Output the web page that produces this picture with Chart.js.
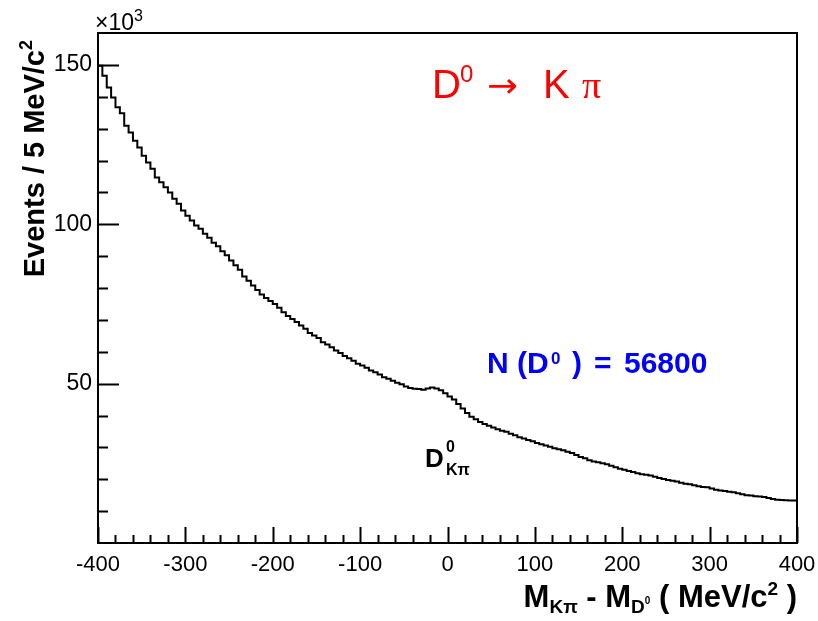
<!DOCTYPE html>
<html>
<head>
<meta charset="utf-8">
<script src="https://cdn.jsdelivr.net/npm/chart.js@4.4.0/dist/chart.umd.min.js"></script>
<style>
  body { margin: 0; background: #fff; }
  canvas { display: block; }
</style>
</head>
<body>
<canvas id="massChart" width="818" height="621"></canvas>
<script>
// histogram binning (MeV)
const xMin = -400
const xMax = 400
const binWidth = 5

// events per 5 MeV bin, in units of 10^3
const counts = [
    153.0, 149.7, 146.6, 142.9, 139.8, 136.7, 134.8, 130.9, 128.8, 126.2,
    124.1, 121.5, 119.4, 117.4, 114.7, 113.2, 111.6, 110.0, 108.0, 106.4,
    104.3, 102.7, 101.2, 99.6, 98.6, 97.0, 95.8, 94.2, 93.1, 91.5,
    90.3, 88.6, 87.1, 85.7, 83.6, 82.3, 80.8, 79.4, 78.0, 76.9,
    75.9, 75.0, 73.8, 72.4, 71.2, 70.3, 69.3, 68.2, 67.2, 65.9,
    65.1, 64.3, 63.0, 62.3, 61.4, 60.4, 59.6, 58.7, 58.0, 57.2,
    56.2, 55.7, 55.0, 54.1, 53.6, 52.9, 52.0, 51.5, 50.9, 50.3,
    49.8, 49.1, 48.6, 48.4, 48.3, 48.1, 48.5, 48.8, 48.5, 47.9,
    47.0, 46.0, 45.0, 43.6, 42.2, 40.8, 39.6, 38.8, 38.0, 37.3,
    36.8, 36.2, 35.7, 35.2, 34.9, 34.3, 33.8, 33.2, 32.8, 32.3,
    31.9, 31.4, 31.0, 30.6, 30.2, 29.7, 29.4, 29.1, 28.6, 28.2,
    27.6, 27.0, 26.6, 26.0, 25.6, 25.3, 25.0, 24.7, 24.2, 23.8,
    23.3, 23.0, 22.6, 22.3, 21.9, 21.6, 21.4, 21.2, 20.8, 20.4,
    20.1, 19.8, 19.5, 19.3, 18.9, 18.6, 18.4, 18.1, 17.8, 17.6,
    17.5, 17.1, 16.7, 16.5, 16.3, 16.1, 15.9, 15.6, 15.3, 15.0,
    14.9, 14.7, 14.6, 14.4, 14.1, 13.8, 13.6, 13.5, 13.4, 13.3
]

const xTicks = [-400, -300, -200, -100, 0, 100, 200, 300, 400]
const yTicks = [50, 100, 150]

// step points: left edge of every bin + closing point at the right edge
const histPoints = counts.map((c, i) => ({ x: xMin + i * binWidth, y: c }))
histPoints.push({ x: xMax, y: counts[counts.length - 1] })

// draws a row of text pieces [text, font, dy] starting at x
function drawPieces(ctx, pieces, x, y) {
    pieces.forEach(p => {
        ctx.font = p[1]
        ctx.fillText(p[0], x, y + (p[2] || 0))
        x += ctx.measureText(p[0]).width
    })
}
function piecesWidth(ctx, pieces) {
    let w = 0
    pieces.forEach(p => { ctx.font = p[1]; w += ctx.measureText(p[0]).width })
    return w
}

const rootFrame = {
    id: 'rootFrame',
    afterDraw(chart) {
        const ctx = chart.ctx
        const a = chart.chartArea
        const xs = chart.scales.x
        const ys = chart.scales.y
        ctx.save()
        ctx.strokeStyle = '#000'
        ctx.lineWidth = 2
        ctx.strokeRect(a.left, a.top, a.right - a.left, a.bottom - a.top)

        // inside ticks
        ctx.beginPath()
        for (let v = xMin; v <= xMax; v += 20) {
            const px = Math.round(xs.getPixelForValue(v)) + 0.5
            const len = v % 100 === 0 ? 16 : 8
            ctx.moveTo(px, a.bottom)
            ctx.lineTo(px, a.bottom - len)
        }
        for (let v = 10; v < 160; v += 10) {
            const py = Math.round(ys.getPixelForValue(v)) + 0.5
            const len = v % 50 === 0 ? 21 : 10
            ctx.moveTo(a.left, py)
            ctx.lineTo(a.left + len, py)
        }
        ctx.stroke()

        ctx.fillStyle = '#000'
        ctx.textBaseline = 'alphabetic'
        ctx.textAlign = 'left'

        // x10^3
        drawPieces(ctx, [
            ['\u00d710', '23px "Liberation Sans"', 0],
            ['3', '16px "Liberation Sans"', -9]
        ], 95, 30)

        // y title, rotated, end aligned to the top
        const yTitle = [
            ['Events / 5 MeV/c', 'bold 29px "Liberation Sans"', 0],
            ['2', 'bold 18px "Liberation Sans"', -12]
        ]
        const yw = piecesWidth(ctx, yTitle)
        ctx.save()
        ctx.translate(44, 40 + yw)
        ctx.rotate(-Math.PI / 2)
        drawPieces(ctx, yTitle, 0, 0)
        ctx.restore()

        // x title, right aligned
        const bf = '"Liberation Sans"'
        const xTitle = [
            ['M', 'bold 31px ' + bf, 0],
            ['K\u03c0', 'bold 19px ' + bf, 6],
            [' - M', 'bold 31px ' + bf, 0],
            ['D', 'bold 19px ' + bf, 6],
            ['0', 'bold 10px ' + bf, -3],
            [' ( MeV/c', 'bold 31px ' + bf, 0],
            ['2', 'bold 19px ' + bf, -12],
            [' )', 'bold 31px ' + bf, 0]
        ]
        drawPieces(ctx, xTitle, 797 - piecesWidth(ctx, xTitle), 607)

        // decay label
        ctx.fillStyle = '#ff0000'
        ctx.font = '40px "Liberation Sans Narrow", "Liberation Sans"'
        ctx.fillText('D', 432, 98)
        ctx.font = '24px "Liberation Sans Narrow", "Liberation Sans"'
        ctx.fillText('0', 460, 82)
        ctx.font = '34px "DejaVu Sans"'
        ctx.save()
        const aw = ctx.measureText('\u2192').width
        ctx.translate(487, 97)
        ctx.scale(31 / aw, 1)
        ctx.fillText('\u2192', 0, 0)
        ctx.restore()
        ctx.font = '40px "Liberation Sans Narrow", "Liberation Sans"'
        ctx.fillText('K', 543, 98)
        ctx.font = '38px "Liberation Serif"'
        ctx.fillText('\u03c0', 582, 98)

        // signal yield
        ctx.fillStyle = '#0000ff'
        ctx.font = 'bold 30px "Liberation Sans"'
        ctx.fillText('N (D', 487, 373)
        ctx.font = 'bold 17px "Liberation Sans"'
        ctx.fillText('0', 551, 364)
        ctx.font = 'bold 30px "Liberation Sans"'
        ctx.fillText(')', 572, 373)
        ctx.fillText('=', 594, 373)
        ctx.fillText('56800', 624, 373)

        // peak label
        ctx.fillStyle = '#000'
        ctx.font = 'bold 26px "Liberation Sans"'
        ctx.fillText('D', 425, 467)
        ctx.font = 'bold 16px "Liberation Sans"'
        ctx.fillText('0', 446, 452)
        ctx.fillText('K\u03c0', 446, 475)
        ctx.restore()
    }
}

const massCtx = document.getElementById('massChart').getContext('2d')
new Chart(massCtx, {
    type: 'line',
    data: {
        datasets: [{
            data: histPoints,
            stepped: 'after',
            borderColor: '#000',
            borderWidth: 2,
            pointRadius: 0,
            fill: false
        }]
    },
    options: {
        responsive: false,
        animation: false,
        layout: { autoPadding: false, padding: { left: 0, top: 33, right: 21, bottom: 0 } },
        plugins: {
            legend: { display: false },
            tooltip: { enabled: false }
        },
        scales: {
            x: {
                type: 'linear',
                min: xMin,
                max: xMax,
                grid: { display: false, drawTicks: false },
                border: { display: false },
                afterBuildTicks: s => { s.ticks = xTicks.map(v => ({ value: v })) },
                afterFit: s => { s.height = 78; s.paddingLeft = 0; s.paddingRight = 0 },
                ticks: {
                    padding: 9,
                    color: '#000',
                    maxRotation: 0,
                    font: { family: 'Liberation Sans', size: 22 }
                }
            },
            y: {
                type: 'linear',
                min: 0,
                max: 160,
                grid: { display: false, drawTicks: false },
                border: { display: false },
                afterBuildTicks: s => { s.ticks = yTicks.map(v => ({ value: v })) },
                afterFit: s => { s.width = 98; s.paddingTop = 0; s.paddingBottom = 0 },
                ticks: {
                    padding: 6,
                    color: '#000',
                    font: { family: 'Liberation Sans', size: 23 }
                }
            }
        }
    },
    plugins: [rootFrame]
});
</script>
</body>
</html>
